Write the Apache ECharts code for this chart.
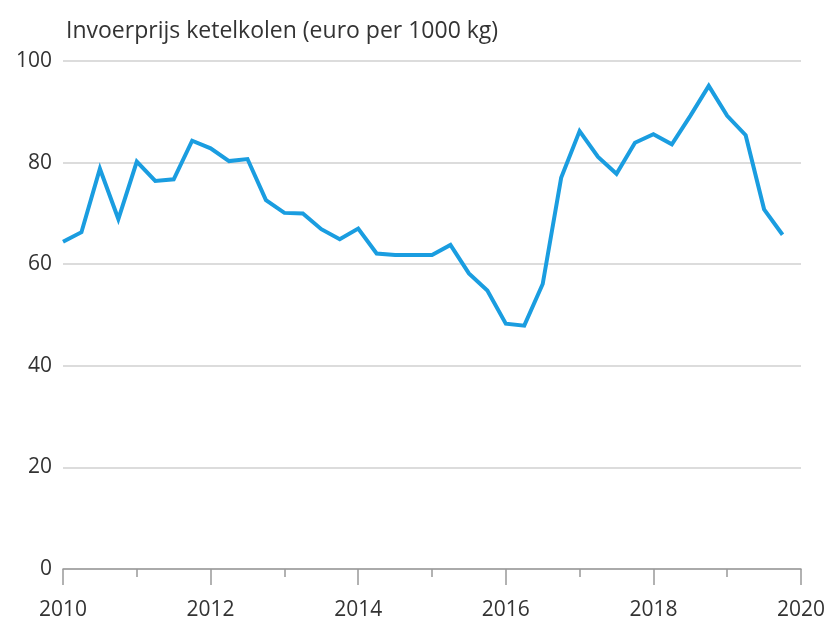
<!DOCTYPE html>
<html>
<head>
<meta charset="utf-8">
<script src="https://cdn.jsdelivr.net/npm/echarts@6/dist/echarts.min.js"></script>
<style>
  html, body { margin: 0; padding: 0; background: #fff; }
  #chart { width: 833px; height: 624px; }
</style>
</head>
<body>
<div id="chart"></div>
<script>
// kwartalen, als decimaal jaartal
const periods = [
  2010.00, 2010.25, 2010.50, 2010.75,
  2011.00, 2011.25, 2011.50, 2011.75,
  2012.00, 2012.25, 2012.50, 2012.75,
  2013.00, 2013.25, 2013.50, 2013.75,
  2014.00, 2014.25, 2014.50, 2014.75,
  2015.00, 2015.25, 2015.50, 2015.75,
  2016.00, 2016.25, 2016.50, 2016.75,
  2017.00, 2017.25, 2017.50, 2017.75,
  2018.00, 2018.25, 2018.50, 2018.75,
  2019.00, 2019.25, 2019.50, 2019.75,
];
// invoerprijs ketelkolen, euro per 1000 kg
const prices = [
  64.4, 66.3, 78.8, 68.9,
  80.2, 76.4, 76.7, 84.3,
  82.8, 80.3, 80.7, 72.6,
  70.1, 70.0, 66.9, 64.9,
  67.0, 62.1, 61.8, 61.8,
  61.8, 63.8, 58.2, 54.8,
  48.3, 47.9, 56.1, 77.0,
  86.2, 81.1, 77.8, 83.9,
  85.6, 83.6, 89.2, 95.1,
  89.2, 85.4, 70.8, 65.8,
];
const yTicks = [0, 20, 40, 60, 80, 100];
const title = "Invoerprijs ketelkolen (euro per 1000 kg)";

const chart = echarts.init(document.getElementById("chart"), null, { renderer: "canvas" });
const font = "'Open Sans', 'Noto Sans', sans-serif";

chart.setOption({
  animation: false,
  title: {
    text: title,
    left: 61,
    top: 15,
    textStyle: { fontFamily: font, fontSize: 23, fontWeight: "normal", color: "#333" },
  },
  grid: { left: 63, right: 32, top: 61, bottom: 55, containLabel: false },
  xAxis: {
    type: "value",
    min: 2010,
    max: 2020,
    interval: 2,
    axisLine: { show: true, lineStyle: { color: "#999", width: 1.5 } },
    axisTick: { show: true, length: 16, lineStyle: { color: "#999", width: 1.5 } },
    minorTick: { show: true, splitNumber: 2, length: 8, lineStyle: { color: "#999", width: 1.5 } },
    axisLabel: {
      margin: 31,
      fontFamily: font,
      fontSize: 21,
      color: "#333",
      formatter: (v) => String(v),
    },
    splitLine: { show: false },
  },
  yAxis: {
    type: "value",
    min: yTicks[0],
    max: yTicks[yTicks.length - 1],
    interval: 20,
    axisLine: { show: false },
    axisTick: { show: false },
    axisLabel: { margin: 11, fontFamily: font, fontSize: 21, color: "#333" },
    splitLine: { show: true, lineStyle: { color: "#dcdcdc", width: 2 } },
  },
  series: [
    {
      type: "line",
      data: periods.map((p, i) => [p, prices[i]]),
      showSymbol: false,
      lineStyle: { color: "#1a9de0", width: 4, join: "miter" },
      itemStyle: { color: "#1a9de0" },
    },
  ],
});
</script>
</body>
</html>
